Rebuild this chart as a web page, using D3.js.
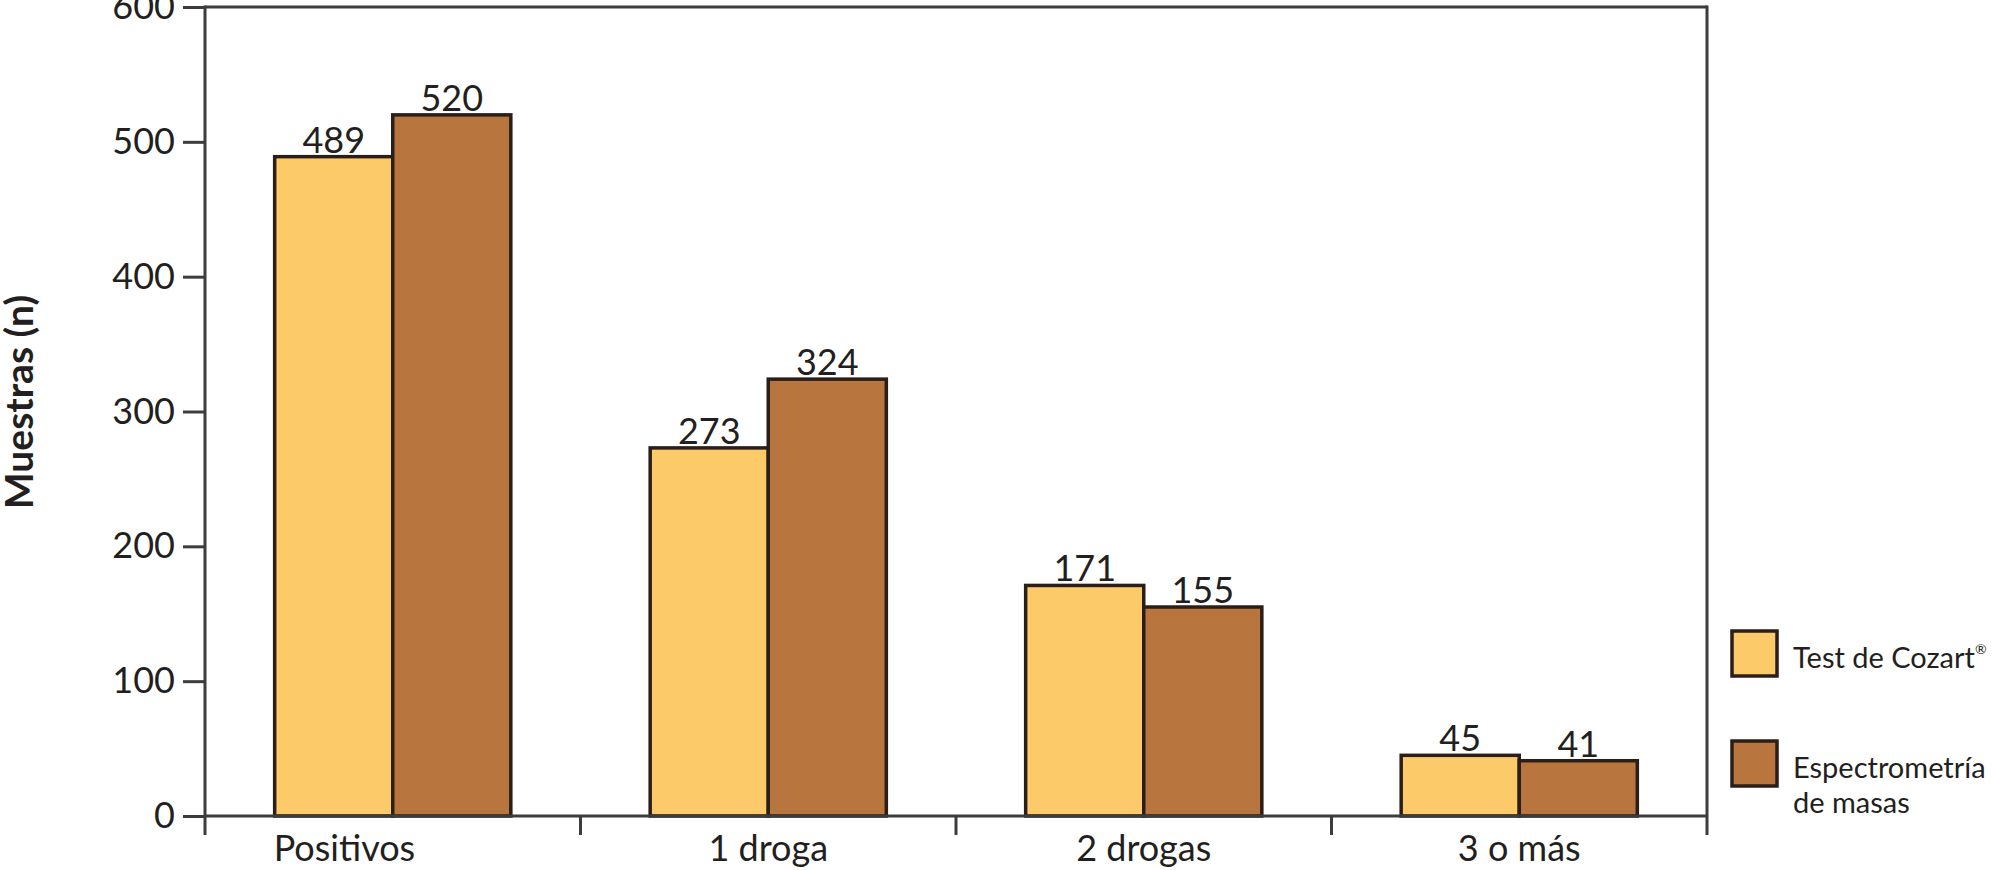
<!DOCTYPE html>
<html>
<head>
<meta charset="utf-8">
<script src="https://cdn.jsdelivr.net/npm/d3@7"></script>
<style>
  html, body { margin: 0; padding: 0; background: #fff; }
  svg { display: block; font-family: Lato, "Open Sans", sans-serif; }
</style>
</head>
<body>
<svg id="chart" width="1992" height="870"></svg>
<script>
const categories = ["Positivos", "1 droga", "2 drogas", "3 o más"];
const seriesKeys = ["cozart", "espectrometria"];
const cozart = [489, 273, 171, 45];
const espectrometria = [520, 324, 155, 41];
const yTicks = [0, 100, 200, 300, 400, 500, 600];
const legendLabels = [["Test de Cozart"], ["Espectrometría", "de masas"]];

const colors = { cozart: "#fdca69", espectrometria: "#b8763e" };
const barStroke = "#2a1e19";
const axisColor = "#3c3c3c";

const svg = d3.select("#chart");
const plotLeft = 205, plotRight = 1707, plotTop = 7, plotBottom = 816;

const x = d3.scaleBand().domain(categories).range([plotLeft, plotRight]).padding(0);
const x1 = d3.scaleBand().domain(seriesKeys).range([0, x.bandwidth()]).paddingInner(0).paddingOuter(0.59);
const y = d3.scaleLinear().domain([0, 600]).range([plotBottom, plotTop]);

const data = categories.map((c, i) => ({ cat: c, cozart: cozart[i], espectrometria: espectrometria[i] }));

// bars
const groups = svg.append("g").selectAll("g").data(data).join("g")
  .attr("transform", d => `translate(${x(d.cat)},0)`);

groups.selectAll("rect").data(d => seriesKeys.map(k => ({ key: k, value: d[k] }))).join("rect")
  .attr("x", d => x1(d.key))
  .attr("y", d => y(d.value))
  .attr("width", x1.bandwidth())
  .attr("height", d => y(0) - y(d.value))
  .attr("fill", d => colors[d.key])
  .attr("stroke", barStroke)
  .attr("stroke-width", 3.5);

groups.selectAll("text.val").data(d => seriesKeys.map(k => ({ key: k, value: d[k] }))).join("text")
  .attr("class", "val")
  .attr("x", d => x1(d.key) + x1.bandwidth() / 2)
  .attr("y", d => y(d.value) - 4)
  .attr("text-anchor", "middle")
  .attr("font-size", 36)
  .attr("fill", "#231f20")
  .text(d => d.value);

// frame lines
const frame = svg.append("g").attr("stroke", axisColor).attr("stroke-width", 3).attr("fill", "none");
frame.append("line").attr("x1", plotLeft).attr("x2", plotRight).attr("y1", y(600)).attr("y2", y(600));
frame.append("line").attr("x1", plotLeft).attr("x2", plotRight).attr("y1", y(0)).attr("y2", y(0));
frame.append("line").attr("x1", plotLeft).attr("x2", plotLeft).attr("y1", y(600) - 1.5).attr("y2", y(0) + 19);
frame.append("line").attr("x1", plotRight).attr("x2", plotRight).attr("y1", y(600) - 1.5).attr("y2", y(0) + 19);

// y axis
const yAxis = svg.append("g").attr("transform", `translate(${plotLeft},0)`)
  .call(d3.axisLeft(y).tickValues(yTicks).tickSize(22).tickSizeOuter(0).tickPadding(8));
yAxis.select(".domain").remove();
yAxis.selectAll(".tick line").attr("stroke", axisColor).attr("stroke-width", 3);
yAxis.selectAll(".tick text").attr("font-size", 36).attr("fill", "#231f20")
  .attr("font-family", "Lato, 'Open Sans', sans-serif");

// x axis boundary ticks
svg.append("g").selectAll("line").data(categories.slice(1)).join("line")
  .attr("x1", d => x(d)).attr("x2", d => x(d))
  .attr("y1", y(0)).attr("y2", y(0) + 19)
  .attr("stroke", axisColor).attr("stroke-width", 3);

// category labels
svg.append("g").selectAll("text").data(categories).join("text")
  .attr("x", (d, i) => i === 0 ? x(d) + x1("cozart") - 1 : x(d) + x.bandwidth() / 2)
  .attr("y", 861)
  .attr("text-anchor", (d, i) => i === 0 ? "start" : "middle")
  .attr("font-size", 36)
  .attr("fill", "#231f20")
  .text(d => d);

// y title
svg.append("text")
  .attr("transform", "translate(33,402) rotate(-90)")
  .attr("text-anchor", "middle")
  .attr("font-size", 39)
  .attr("font-weight", "bold")
  .attr("fill", "#231f20")
  .text("Muestras (n)");

// legend
const legendY = d3.scalePoint().domain(seriesKeys).range([653, 763]);
const leg = svg.append("g").selectAll("g").data(seriesKeys).join("g")
  .attr("transform", d => `translate(1732,${legendY(d)})`);
leg.append("rect")
  .attr("x", 0).attr("y", -22).attr("width", 45).attr("height", 45)
  .attr("fill", d => colors[d]).attr("stroke", barStroke).attr("stroke-width", 3.5);
leg.each(function (d, i) {
  const g = d3.select(this);
  const t = g.append("text").attr("x", 61).attr("font-size", 29).attr("fill", "#231f20");
  const lines = legendLabels[i];
  lines.forEach((l, j) => {
    t.append("tspan").attr("x", 61).attr("y", 15 + j * 35).text(l);
  });
  if (i === 0) {
    t.append("tspan").attr("font-size", 14).attr("dy", -14).text("®");
  }
});
</script>
</body>
</html>
